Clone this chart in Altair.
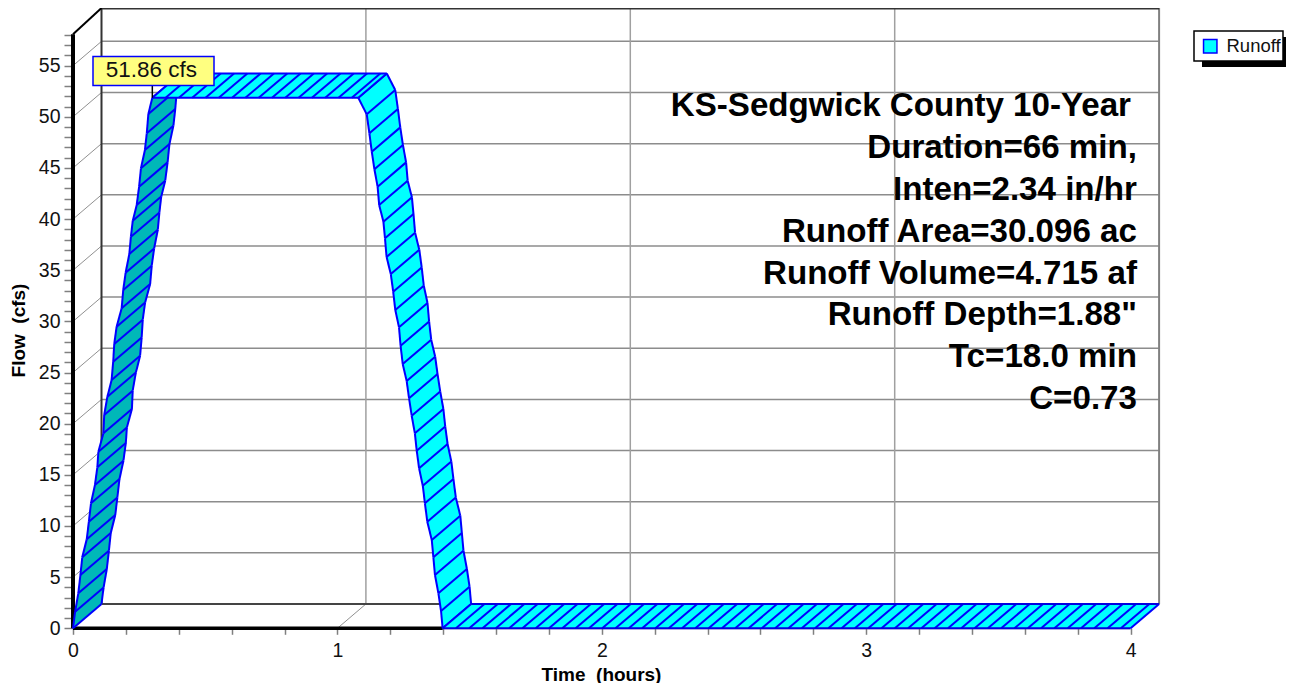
import altair as alt
import pandas as pd
import numpy as np

# values
rise_t = [0, .008, .020, .028, .035, .052, .060, .068, .083, .092, .096, .115, .118, .130, .146, .152,
          .156, .165, .184, .190, .199, .213, .219, .226, .241, .250, .257, .272, .279, .285, .300]
rise_q = [0, 1.62, 3.42, 5.21, 6.94, 8.70, 10.42, 12.22, 14.01, 15.74, 17.26, 19.06, 20.85, 22.64, 24.27, 26.06,
          27.79, 29.48, 31.28, 33.07, 34.75, 36.59, 38.28, 39.84, 41.38, 43.17, 44.97, 46.76, 48.39, 50.27, 51.86]
fall_t = [1.079, 1.111, 1.121, 1.130, 1.140, 1.152, 1.158, 1.174, 1.180, 1.186, 1.202, 1.211, 1.219, 1.233, 1.239, 1.247,
          1.262, 1.271, 1.281, 1.293, 1.300, 1.309, 1.323, 1.331, 1.340, 1.357, 1.363, 1.369, 1.382, 1.392, 1.398]
fall_q = [51.86, 50.24, 48.39, 46.59, 44.87, 43.17, 41.38, 39.75, 38.12, 36.30, 34.63, 32.90, 31.11, 29.42, 27.62, 25.84,
          24.17, 22.48, 20.78, 19.06, 17.36, 15.64, 13.94, 12.22, 10.42, 8.63, 6.94, 5.21, 3.42, 1.69, 0]
tail_end = 4.0
peak_label = "51.86 cfs"
y_major = [0, 5, 10, 15, 20, 25, 30, 35, 40, 45, 50, 55]
x_major = [0, 1, 2, 3, 4]
notes = ["KS-Sedgwick County 10-Year", "Duration=66 min,", "Inten=2.34 in/hr", "Runoff Area=30.096 ac",
         "Runoff Volume=4.715 af", "Runoff Depth=1.88\"", "Tc=18.0 min", "C=0.73"]
notes_y = [50.05, 45.96, 41.88, 37.79, 33.70, 29.62, 25.53, 21.45]
notes_x = [4.0015, 4.024, 4.024, 4.024, 4.024, 4.024, 4.024, 4.024]

# scales: 3D depth offset in data units
PW, PH = 1085.7, 620.3
XMAX, YMAX = PW / 264.4, PH / 10.23
DT, DQ = 28.5 / 264.4, 24.3 / 10.23
Y_TOP = 58.06
BLUE = "#0000ff"
FONT = "Liberation Sans"
xs = alt.Scale(domain=[0, XMAX], nice=False, zero=False)
ys = alt.Scale(domain=[0, YMAX], nice=False, zero=False)


def segs(rows, color, width):
    df = pd.DataFrame(rows, columns=["x", "y", "x2", "y2"])
    return alt.Chart(df).mark_rule(color=color, strokeWidth=width, clip=False).encode(
        x=alt.X("x:Q", scale=xs, axis=None), x2="x2:Q",
        y=alt.Y("y:Q", scale=ys, axis=None), y2="y2:Q")


def ribbon(front_t, front_q):
    """Horizontal slices of the parallelogram ribbon swept from the front curve to the back plane."""
    ft, fq = np.array(front_t), np.array(front_q)
    order = np.argsort(fq)
    ft, fq = ft[order], fq[order]
    levels = np.unique(np.concatenate([fq, fq + DQ]))
    left = np.where(levels <= fq[-1], np.interp(levels, fq, ft),
                    ft[-1] + (levels - fq[-1]) / DQ * DT)
    right = np.where(levels >= DQ, np.interp(levels - DQ, fq, ft) + DT,
                     ft[0] + levels / DQ * DT)
    return pd.DataFrame({"x": left, "x2": right, "y": levels, "series": "Runoff"})


def band(t0, t1, q):
    return pd.DataFrame({"x": [t0, t0 + DT], "x2": [t1, t1 + DT], "y": [q, q + DQ], "series": "Runoff"})


def area(df, fill=None):
    enc = dict(x=alt.X("x:Q", scale=xs, axis=None), x2="x2:Q",
               y=alt.Y("y:Q", scale=ys, axis=None))
    if fill:
        return alt.Chart(df).mark_area(orient="horizontal", color=fill).encode(**enc)
    return alt.Chart(df).mark_area(orient="horizontal").encode(
        color=alt.Color("series:N", scale=alt.Scale(domain=["Runoff"], range=["#00ffff"]),
                        legend=alt.Legend(title=None, orient="none", legendX=1128, legendY=29,
                                          padding=0,
                                          symbolType="square", symbolSize=180, labelOffset=7,
                                          symbolStrokeColor=BLUE, symbolStrokeWidth=1.5,
                                          labelFont=FONT, labelFontSize=18.5, labelColor="#111111",
                                          zindex=1)),
        **enc)


# axes layer
base = alt.Chart(pd.DataFrame({"x": [0.0], "y": [0.0]})).mark_point(opacity=0).encode(
    x=alt.X("x:Q", scale=xs, axis=alt.Axis(
        values=[round(i * 0.2, 1) for i in range(21)], title="Time\u00a0 (hours)", domain=False, grid=False,
        labelExpr="abs(datum.value-round(datum.value))<0.001 ? format(datum.value,'d') : ''",
        labelFont=FONT, labelFontSize=19.5, labelColor="#111111", labelPadding=7, labelOverlap=False,
        labelFlush=False,
        tickColor="#808080", tickSize=6, tickWidth=1.5, titleFont=FONT, titleFontSize=19,
        titleFontWeight="bold", titleColor="black", titleX=528, titleY=46, titleBaseline="middle",
        titleAnchor="middle")),
    y=alt.Y("y:Q", scale=ys, axis=alt.Axis(
        values=list(range(0, 59)), title="Flow\u00a0 (cfs)", domain=False, grid=False,
        labelExpr="datum.value%5==0 ? format(datum.value,'d') : ''",
        labelFont=FONT, labelFontSize=19.5, labelColor="#111111", labelPadding=4, labelOverlap=False,
        labelFlush=False,
        tickColor="#808080", tickSize=9, tickWidth=1.5, titleFont=FONT, titleFontSize=19,
        titleFontWeight="bold", titleColor="black", titleX=-55, titleY=322, titleAngle=270,
        titleBaseline="middle")))

# grid / frame
wall_h = [(DT, q + DQ, 4 + DT, q + DQ) for q in y_major[1:]]
wall_v = [(t + DT, DQ, t + DT, YMAX) for t in x_major[1:-1]]
wall_d = [(0, q, DT, q + DQ) for q in y_major[1:]] + [(t, 0, t + DT, DQ) for t in x_major[1:-1]]
layers = [
    base,
    segs(wall_h, "#8c8c8c", 1.5),
    segs(wall_v, "#a0a0a0", 1.5),
    segs(wall_d, "#909090", 1),
    segs([(4 + DT, DQ, 4 + DT, YMAX)], "#808080", 2),
    segs([(DT, YMAX, 4 + DT, YMAX)], "#333333", 3),
    segs([(DT, DQ, DT, YMAX)], "#333333", 2),
    segs([(DT, DQ, 4 + DT, DQ)], "#444444", 2),
    segs([(0, Y_TOP, DT, YMAX)], "black", 2),
    segs([(0, 0, 4, 0)], "#808080", 2),
    segs([(0, 0, fall_t[-1], 0)], "black", 3.5),
    segs([(0, 0, 0, Y_TOP)], "black", 4),
]

# ribbon
flat_t0, flat_t1 = rise_t[-1], fall_t[0]
peak = rise_q[-1]
LW = 2
layers += [
    area(ribbon(rise_t, rise_q), "#00b8b8"),
    segs([(a, b, a + DT, b + DQ) for a, b in zip(rise_t, rise_q)], BLUE, LW),
    segs([(a, b, c, d) for a, b, c, d in zip(rise_t, rise_q, rise_t[1:], rise_q[1:])], BLUE, LW),
    segs([(a + DT, b + DQ, c + DT, d + DQ) for a, b, c, d in zip(rise_t, rise_q, rise_t[1:], rise_q[1:])], BLUE, LW),
    area(ribbon(fall_t, fall_q)),
    segs([(a, b, a + DT, b + DQ) for a, b in zip(fall_t, fall_q)], BLUE, LW),
    segs([(a, b, c, d) for a, b, c, d in zip(fall_t, fall_q, fall_t[1:], fall_q[1:])], BLUE, LW),
    segs([(a + DT, b + DQ, c + DT, d + DQ) for a, b, c, d in zip(fall_t, fall_q, fall_t[1:], fall_q[1:])], BLUE, LW),
    area(band(flat_t0, flat_t1, peak)),
    area(band(fall_t[-1], tail_end, 0)),
]
flat_ticks = list(np.arange(flat_t0, flat_t1 + 1e-6, 0.0503)) + [flat_t1]
tail_ticks = list(np.arange(fall_t[-1], tail_end, 0.0503)) + [tail_end]
layers += [
    segs([(t, peak, t + DT, peak + DQ) for t in flat_ticks], BLUE, LW),
    segs([(flat_t0, peak, flat_t1, peak), (flat_t0 + DT, peak + DQ, flat_t1 + DT, peak + DQ)], BLUE, LW),
    segs([(t, 0, t + DT, DQ) for t in tail_ticks], BLUE, LW),
    segs([(fall_t[-1], 0, tail_end, 0), (fall_t[-1] + DT, DQ, tail_end + DT, DQ)], "#0000e0", LW),
]

# peak label
layers += [
    segs([(flat_t0, peak, flat_t0, 53.1)], "black", 1.5),
    alt.Chart(pd.DataFrame({"a": [0]})).mark_rect(fill="#ffff80", stroke=BLUE, strokeWidth=1.5).encode(
        x=alt.value(20), x2=alt.value(141), y=alt.value(48.5), y2=alt.value(77.5)),
    alt.Chart(pd.DataFrame({"x": [flat_t0], "y": [peak], "t": [peak_label]})).mark_text(
        font=FONT, fontSize=22.5, color="#111111", dy=-28, dx=-1, align="center", baseline="middle").encode(
        x=alt.X("x:Q", scale=xs, axis=None), y=alt.Y("y:Q", scale=ys, axis=None), text="t:N"),
]

# notes
notes_df = pd.DataFrame({"t": notes, "y": notes_y, "x": notes_x})
layers += [
    alt.Chart(notes_df).mark_text(font=FONT, fontSize=33.15, fontWeight="bold", color="black",
                                  align="right", baseline="alphabetic").encode(
        x=alt.X("x:Q", scale=xs, axis=None), y=alt.Y("y:Q", scale=ys, axis=None), text="t:N"),
]

# legend box with shadow, and clipped title
layers += [
    alt.Chart(pd.DataFrame({"a": [0]})).mark_rect(color="black").encode(
        x=alt.value(1129), x2=alt.value(1213), y=alt.value(29), y2=alt.value(59)),
    alt.Chart(pd.DataFrame({"a": [0]})).mark_rect(fill="white", stroke="black", strokeWidth=1.5).encode(
        x=alt.value(1121), x2=alt.value(1210), y=alt.value(23), y2=alt.value(53)),
    alt.Chart(pd.DataFrame({"t": ["Hydrograph"]})).mark_text(
        font=FONT, fontSize=24, fontWeight="bold", color=BLUE, align="center", baseline="alphabetic").encode(
        x=alt.value(517), y=alt.value(-14), text="t:N"),
]

chart = alt.layer(*layers).resolve_axis(x="independent", y="independent").properties(
    width=PW, height=PH,
    autosize=alt.AutoSizeParams(type="none"),
    padding={"left": 65, "top": 0, "right": 127.3, "bottom": 55},
    background="white",
).configure_view(stroke=None)

chart.save("out.html", embed_options={"renderer": "svg", "actions": False})
